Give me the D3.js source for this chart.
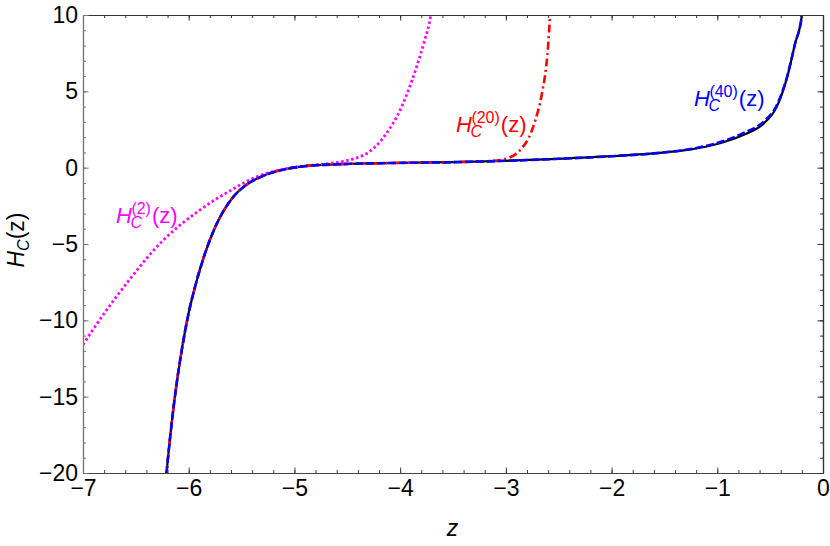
<!DOCTYPE html>
<html>
<head>
<meta charset="utf-8">
<script src="https://cdn.jsdelivr.net/npm/d3@7"></script>
<style>
  html, body { margin: 0; padding: 0; background: #fff; }
  svg { display: block; font-family: "Liberation Sans", Arial, Helvetica, sans-serif; }
</style>
</head>
<body>
<svg id="chart" width="830" height="546"></svg>
<script>
// ---- data ----
const xDomain = [-7, 0];
const yDomain = [-20, 10];
const xTickValues = [-7, -6, -5, -4, -3, -2, -1, 0];
const xTickLabels = ["\u22127", "\u22126", "\u22125", "\u22124", "\u22123", "\u22122", "\u22121", "0"];
const yTickValues = [-20, -15, -10, -5, 0, 5, 10];
const yTickLabels = ["\u221220", "\u221215", "\u221210", "\u22125", "0", "5", "10"];

// exact H_C(z) (black, solid)
const zExact = [-6.23, -6.21, -6.14, -6.06, -6.0, -5.94, -5.85, -5.75, -5.6, -5.45, -5.3, -5.1, -4.9, -4.6, -4.2, -3.5, -3.0, -2.5, -2.0, -1.5, -1.25, -1.0, -0.75, -0.56, -0.44, -0.34, -0.265, -0.2, -0.185];
const hExact = [-21.5, -20, -15.5, -11.7, -9.5, -7.8, -5.7, -3.9, -2.1, -1.1, -0.55, -0.12, 0.1, 0.22, 0.29, 0.36, 0.45, 0.58, 0.75, 1.0, 1.2, 1.55, 2.15, 2.9, 3.95, 5.9, 8.1, 10, 11];

// H_C^(40)(z) (blue, dashed)
const z40 = [-6.23, -6.21, -6.14, -6.06, -6.0, -5.94, -5.85, -5.75, -5.6, -5.45, -5.3, -5.1, -4.9, -4.6, -4.2, -3.5, -3.0, -2.5, -2.0, -1.5, -1.25, -1.0, -0.75, -0.56, -0.44, -0.34, -0.265, -0.2, -0.185];
const h40 = [-21.5, -20, -15.5, -11.7, -9.5, -7.8, -5.7, -3.9, -2.1, -1.1, -0.55, -0.12, 0.1, 0.22, 0.29, 0.36, 0.45, 0.58, 0.75, 1.0, 1.22, 1.62, 2.28, 3.02, 4.05, 5.95, 8.1, 10, 11];

// H_C^(20)(z) (red, dot-dashed)
const z20 = [-6.23, -6.21, -6.14, -6.06, -6.0, -5.94, -5.85, -5.75, -5.6, -5.45, -5.3, -5.1, -4.9, -4.6, -4.2, -3.5, -3.3, -3.15, -3.05, -2.97, -2.9, -2.84, -2.78, -2.74, -2.7, -2.677, -2.65, -2.63, -2.6, -2.582, -2.57];
const h20 = [-21.5, -20, -15.5, -11.7, -9.5, -7.8, -5.7, -3.9, -2.1, -1.1, -0.55, -0.12, 0.1, 0.22, 0.29, 0.36, 0.39, 0.43, 0.5, 0.65, 0.92, 1.35, 2.0, 2.7, 3.6, 4.2, 5.2, 6.0, 8.0, 10, 11.5];

// H_C^(2)(z) (magenta, dotted)
const z2 = [-7.0, -6.9, -6.7, -6.55, -6.4, -6.24, -6.08, -5.92, -5.74, -5.6, -5.48, -5.3, -5.1, -4.9, -4.7, -4.55, -4.42, -4.3, -4.19, -4.1, -4.03, -3.94, -3.84, -3.77, -3.71, -3.69];
const h2 = [-11.6, -10.55, -8.6, -7.25, -5.95, -4.75, -3.75, -2.9, -2.05, -1.48, -1.0, -0.45, -0.1, 0.1, 0.25, 0.4, 0.62, 1.0, 1.7, 2.55, 3.35, 4.75, 6.7, 8.3, 10, 11];

// ---- layout ----
const svg = d3.select("#chart");
const L = 83, R = 823, T = 15, B = 473;
const x = d3.scaleLinear().domain(xDomain).range([L, R]);
const y = d3.scaleLinear().domain(yDomain).range([B, T]);

svg.append("defs").append("clipPath").attr("id", "clip")
  .append("rect").attr("x", L).attr("y", T).attr("width", R - L).attr("height", B - T);

const line = d3.line().x(d => x(d[0])).y(d => y(d[1])).curve(d3.curveMonotoneX);
const pairs = (zs, hs) => zs.map((z, i) => [z, hs[i]]);

const plot = svg.append("g").attr("clip-path", "url(#clip)");
plot.append("path").attr("d", line(pairs(zExact, hExact)))
  .attr("fill", "none").attr("stroke", "#000").attr("stroke-width", 2.2);
plot.append("path").attr("d", line(pairs(z2, h2)))
  .attr("fill", "none").attr("stroke", "#ff00ff").attr("stroke-width", 2.8)
  .attr("stroke-dasharray", "2.5,2.6");
plot.append("path").attr("d", line(pairs(z20, h20)))
  .attr("fill", "none").attr("stroke", "#ff0000").attr("stroke-width", 2.6)
  .attr("stroke-dasharray", "8,3.5,2,3.5");
plot.append("path").attr("d", line(pairs(z40, h40)))
  .attr("fill", "none").attr("stroke", "#0000ff").attr("stroke-width", 2.6)
  .attr("stroke-dasharray", "8,3");

// ---- frame & ticks ----
const fontTick = 23;
const xMinor = d3.range(-7, 0.0001, 0.2).map(v => +v.toFixed(2));
const yMinor = d3.range(-20, 10.0001, 1);

function addAxis(axisGen, tx, ty, major, minor, labels, color) {
  const g = svg.append("g").attr("transform", `translate(${tx},${ty})`);
  g.call(axisGen.tickValues(minor).tickSizeInner(-3).tickSizeOuter(0).tickFormat(""));
  const g2 = svg.append("g").attr("transform", `translate(${tx},${ty})`);
  g2.call(axisGen.tickValues(major).tickSizeInner(-5.5).tickSizeOuter(0)
    .tickFormat((d, i) => labels ? labels[i] : ""));
  [g, g2].forEach(gg => {
    gg.selectAll(".domain").attr("stroke", color).attr("stroke-width", 1.2);
    gg.selectAll(".tick line").attr("stroke", color).attr("stroke-width", 1);
    gg.selectAll("text").attr("font-size", fontTick).attr("fill", "#000")
      .attr("font-family", "Liberation Sans, Arial, sans-serif");
  });
  return g2;
}
addAxis(d3.axisBottom(x).tickPadding(7), 0, B, xTickValues, xMinor, xTickLabels, "#444");
addAxis(d3.axisTop(x), 0, T, xTickValues, xMinor, null, "#333");
addAxis(d3.axisLeft(y).tickPadding(5), L, 0, yTickValues, yMinor, yTickLabels, "#777");
addAxis(d3.axisRight(y), R, 0, yTickValues, yMinor, null, "#333");

// ---- axis titles ----
svg.append("text").attr("x", (L + R) / 2 - 0.5).attr("y", 536)
  .attr("text-anchor", "middle").attr("font-size", 23).attr("font-style", "italic").text("z");

const yt = svg.append("text").attr("transform", "translate(24,240) rotate(-90)")
  .attr("text-anchor", "middle").attr("font-size", 23);
yt.append("tspan").attr("font-style", "italic").text("H");
yt.append("tspan").attr("font-style", "italic").attr("font-size", 16).attr("dy", 5).text("C");
yt.append("tspan").attr("dy", -5).text("(z)");

// ---- curve labels (one text element each, positioned tspans) ----
function measure(str, size, italic) {
  const t = svg.append("text").attr("font-size", size)
    .attr("font-style", italic ? "italic" : "normal").text(str);
  const w = t.node().getComputedTextLength();
  t.remove();
  return w;
}
function curveLabel(x0, y0, sup, color) {
  const big = 22, small = 16;
  const hw = measure("H", big, true);
  const subW = measure("C", small, true);
  const supW = measure(sup, small, false);
  const xs = x0 + hw - 1.5;
  const t = svg.append("text").attr("fill", color).attr("x", x0).attr("y", y0);
  t.append("tspan").attr("font-size", big).attr("font-style", "italic").text("H");
  t.append("tspan").attr("x", xs).attr("y", y0 + 5).attr("font-size", small)
    .attr("font-style", "italic").text("C");
  t.append("tspan").attr("x", xs + 1).attr("y", y0 - 9).attr("font-size", small).text(sup);
  t.append("tspan").attr("x", xs + Math.max(subW, supW + 1) + 1).attr("y", y0)
    .attr("font-size", big).text("(z)");
}
curveLabel(116, 223, "(2)", "#ff00ff");
curveLabel(456, 132, "(20)", "#ff0000");
curveLabel(694, 106, "(40)", "#0000ff");
</script>
</body>
</html>
